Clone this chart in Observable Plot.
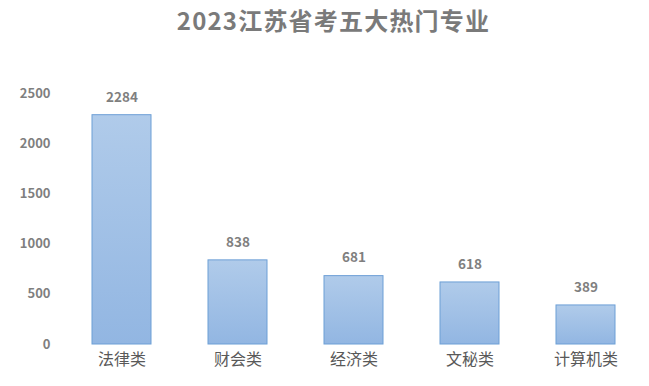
<!DOCTYPE html>
<html><head><meta charset="utf-8">
<script src="https://cdn.jsdelivr.net/npm/d3@7"></script>
<script src="https://cdn.jsdelivr.net/npm/@observablehq/plot@0.6"></script>
<style>
body{margin:0;background:#fff;font-family:"Noto Sans CJK SC","Noto Sans",sans-serif;}
#title{height:42px;line-height:40px;text-align:center;font-size:24px;font-weight:bold;color:#7a7a7a;width:649px;letter-spacing:1.2px;box-sizing:border-box;padding-left:18px;}
</style></head>
<body>
<div id="title">2023江苏省考五大热门专业</div>
<div id="chart"></div>
<script>
const categories = ["法律类","财会类","经济类","文秘类","计算机类"];
const values = [2284, 838, 681, 618, 389];
const yTicks = [0,500,1000,1500,2000,2500];
const data = categories.map((c,i)=>({c, v: values[i]}));

const plot = Plot.plot({
  width: 649, height: 344,
  marginTop: 51, marginBottom: 42, marginLeft: 62, marginRight: 3,
  style: {fontFamily: '"Noto Sans CJK SC","Noto Sans",sans-serif', background: "#fff"},
  x: {domain: categories, paddingInner: 0.49, paddingOuter: 0.245, label: null},
  y: {domain: [0, 2500], ticks: yTicks, label: null},
  marks: [
    () => {
      const ns = "http://www.w3.org/2000/svg";
      const g = document.createElementNS(ns, "defs");
      g.innerHTML = `<linearGradient id="grad" x1="0" y1="0" x2="0" y2="1"><stop offset="0%" stop-color="#b0cbea"/><stop offset="100%" stop-color="#92b6e2"/></linearGradient>`;
      return g;
    },
    Plot.gridY(yTicks, {stroke: "#d9d9d9", strokeOpacity: 1, x1: 62, x2: 640}),
    Plot.barY(data, {x: "c", y: "v", fill: "url(#grad)", stroke: "#6d9fd6", strokeWidth: 1}),
    Plot.axisY(yTicks, {tickSize: 0, tickPadding: 12, fontSize: 13, fontWeight: "bold", fill: "#7f7f7f", tickFormat: d => String(d), label: null}),
    Plot.axisX({tickSize: 0, tickPadding: 9, fontSize: 16, fill: "#595959", label: null}),
    Plot.text(data, {x: "c", y: "v", text: d => String(d.v), dy: -18, fontSize: 13.5, fontWeight: "bold", fill: "#7f7f7f"})
  ]
});
document.getElementById("chart").appendChild(plot);
</script>
</body></html>
